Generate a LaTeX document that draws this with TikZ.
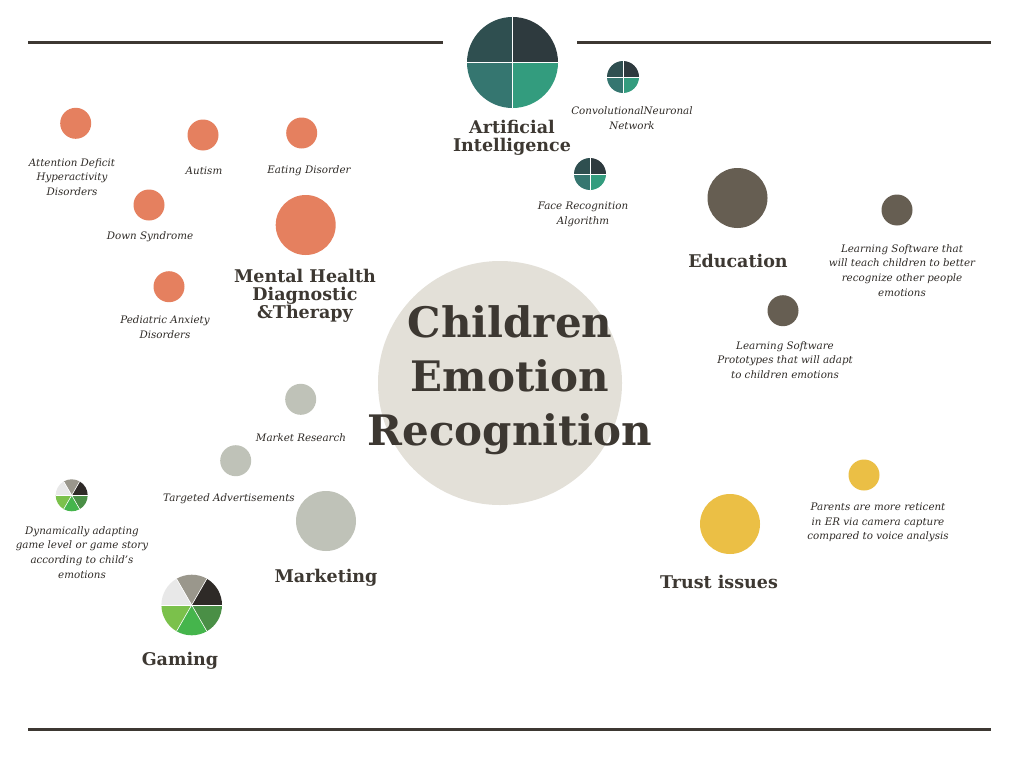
\documentclass[tikz,border=0pt]{standalone}
\usepackage{fontspec}
\setmainfont{DejaVu Serif}
\definecolor{ink}{HTML}{3D3832}
\definecolor{txt}{HTML}{2F2B27}
\definecolor{rule}{HTML}{3D3832}
\definecolor{coral}{HTML}{E5805F}
\definecolor{edu}{HTML}{665E52}
\definecolor{gold}{HTML}{EBBF45}
\definecolor{sage}{HTML}{BFC2B8}
\definecolor{core}{HTML}{E3E0D8}
\definecolor{qa}{HTML}{2F4F50}
\definecolor{qb}{HTML}{2E3A3E}
\definecolor{qc}{HTML}{357670}
\definecolor{qd}{HTML}{339C7E}
\definecolor{ga}{HTML}{2E2A27}
\definecolor{gb}{HTML}{9A978C}
\definecolor{gc}{HTML}{E8E8E8}
\definecolor{gd}{HTML}{7BC14B}
\definecolor{ge}{HTML}{45B54C}
\definecolor{gf}{HTML}{4A8F46}
\tikzset{
  dot/.style={circle, inner sep=0pt, minimum size=31pt, fill=#1},
  bigdot/.style={circle, inner sep=0pt, minimum size=60pt, fill=#1},
  note/.style={align=center, text=txt, font=\fontsize{10.3}{14.8}\selectfont\itshape, inner sep=0pt},
  cat/.style={align=center, text=ink, font=\fontsize{17.5}{18}\selectfont\bfseries, inner sep=0pt},
  hline/.style={draw=rule, line width=3pt},
  sep/.style={draw=white, line width=0.6pt},
}
\newcommand\quadpie[3]{%
  \fill[qb] (#1) -- ++(0:#2) arc[start angle=0, end angle=-90, radius=#2] -- cycle;
  \fill[qa] (#1) -- ++(-90:#2) arc[start angle=-90, end angle=-180, radius=#2] -- cycle;
  \fill[qc] (#1) -- ++(180:#2) arc[start angle=180, end angle=90, radius=#2] -- cycle;
  \fill[qd] (#1) -- ++(90:#2) arc[start angle=90, end angle=0, radius=#2] -- cycle;
  \draw[sep, line width=#3] ($(#1)+(-#2,0)$) -- ($(#1)+(#2,0)$);
  \draw[sep, line width=#3] ($(#1)+(0,-#2)$) -- ($(#1)+(0,#2)$);
}
\newcommand\gamepie[2]{%
  \foreach \a/\c in {0/ga,-60/gb,-120/gc,-180/gd,-240/ge,-300/gf}{
    \fill[\c] (#1) -- ++(\a:#2) arc[start angle=\a, end angle=\a-60, radius=#2] -- cycle;
  }
  \foreach \a in {0,-60,-120,-180,-240,-300}{
    \draw[sep] (#1) -- ++(\a:#2);
  }
}
\usetikzlibrary{calc}
\begin{document}
\begin{tikzpicture}[x=1pt, y=-1pt]
\useasboundingbox (0,0) rectangle (1024,768);
\fill[white] (0,0) rectangle (1024,768);

% rules
\coordinate (r1a) at (28,43); \coordinate (r1b) at (443,43);
\coordinate (r2a) at (577,43); \coordinate (r2b) at (991,43);
\coordinate (r3a) at (28,729); \coordinate (r3b) at (991,729);
\draw[hline] (r1a) -- (r1b);
\draw[hline] (r2a) -- (r2b);
\draw[hline] (r3a) -- (r3b);

% central
\node[circle, inner sep=0pt, minimum size=244pt, fill=core] (center) at (500,383) {};
\node[align=center, text=ink, font=\fontsize{42}{54}\selectfont\bfseries, inner sep=0pt] (title) at (510,380) {Children\\Emotion\\Recognition};

% Artificial Intelligence
\coordinate (ai) at (512.5,62.5);
\quadpie{ai}{45.5}{1pt}
\node[circle, minimum size=91pt, inner sep=0pt] (aic) at (ai) {};
\node[cat] (ait) at (512,138) {Artificial\\Intelligence};
\coordinate (cnn) at (623,77);
\quadpie{cnn}{16}{0.6pt}
\node[circle, minimum size=32pt, inner sep=0pt] (cnnc) at (cnn) {};
\node[note] (cnnt) at (632,118) {ConvolutionalNeuronal\\Network};
\coordinate (face) at (590,174);
\quadpie{face}{16}{0.6pt}
\node[circle, minimum size=32pt, inner sep=0pt] (facec) at (face) {};
\node[note] (facet) at (583,214) {Face Recognition\\Algorithm};

% Mental health
\node[dot=coral] (adhd) at (75.7,123.3) {};
\node[note] (adhdt) at (72,177) {Attention Deficit\\Hyperactivity\\Disorders};
\node[dot=coral] (aut) at (203,135) {};
\node[note] (autt) at (204,171) {Autism};
\node[dot=coral] (eat) at (301.7,133) {};
\node[note] (eatt) at (309,171) {Eating Disorder};
\node[dot=coral] (down) at (149,205) {};
\node[note] (downt) at (150,237) {Down Syndrome};
\node[bigdot=coral] (mh) at (305.7,225) {};
\node[cat] (mht) at (305,296) {Mental Health\\Diagnostic\\\&Therapy};
\node[dot=coral] (ped) at (169,286.7) {};
\node[note] (pedt) at (165,327.5) {Pediatric Anxiety\\Disorders};

% Education
\node[bigdot=edu] (edu) at (737.5,198) {};
\node[cat] (edut) at (738,261) {Education};
\node[dot=edu] (ls1) at (897,210) {};
\node[note] (ls1t) at (902,270.5) {Learning Software that\\will teach children to better\\recognize other people\\emotions};
\node[dot=edu] (ls2) at (783,310.7) {};
\node[note] (ls2t) at (785,360) {Learning Software\\Prototypes that will adapt\\to children emotions};

% Trust
\node[bigdot=gold] (tr) at (730,524) {};
\node[cat] (trt) at (719,582) {Trust issues};
\node[dot=gold] (par) at (864,475) {};
\node[note] (part) at (878,522.5) {Parents are more reticent\\in ER via camera capture\\compared to voice analysis};

% Marketing
\node[dot=sage] (mr) at (300.7,399.3) {};
\node[note] (mrt) at (301,438) {Market Research};
\node[dot=sage] (ta) at (235.7,460.7) {};
\node[note] (tat) at (229,499) {Targeted Advertisements};
\node[bigdot=sage] (mk) at (326,521) {};
\node[cat] (mkt) at (326,578) {Marketing};

% Gaming
\coordinate (g1) at (71.7,495.3);
\gamepie{g1}{16}
\node[circle, minimum size=32pt, inner sep=0pt] (g1c) at (g1) {};
\node[note] (g1t) at (82,552.5) {Dynamically adapting\\game level or game story\\according to child's\\emotions};
\coordinate (g2) at (191.7,605);
\gamepie{g2}{30.3}
\node[circle, minimum size=60pt, inner sep=0pt] (g2c) at (g2) {};
\node[cat] (g2t) at (180,661) {Gaming};
\end{tikzpicture}
\end{document}
